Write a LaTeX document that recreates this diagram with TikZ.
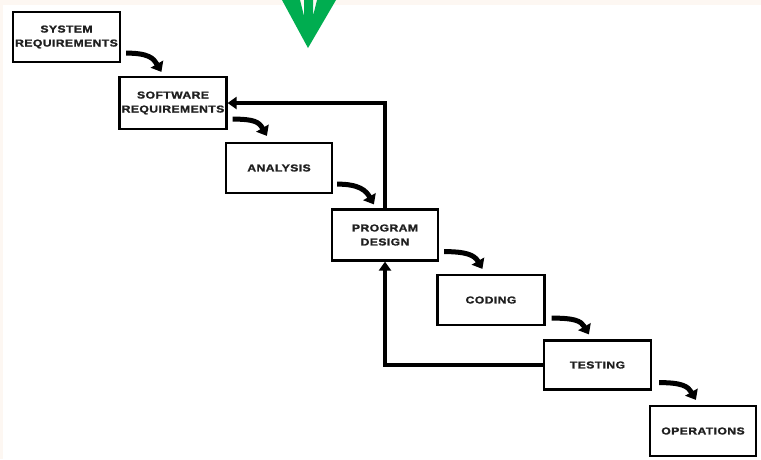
\documentclass[tikz,border=0pt]{standalone}
\usepackage{fontspec}
\usepackage{xcolor}
\usepackage{tikz}
\usetikzlibrary{arrows.meta,calc}
\newfontfamily\phasefont[FakeStretch=1.22,LetterSpace=4,FakeBold=1.5]{Liberation Sans Bold}
\definecolor{pagecream}{RGB}{253,247,242}
\definecolor{markgreen}{RGB}{0,173,80}
\tikzset{
  phase/.style={draw,line width=2.2pt,minimum width=106pt,minimum height=50pt,inner sep=0pt,
    align=center,text=black!88,font=\phasefont\fontsize{10}{14}\selectfont},
  flow/.style={line width=5pt,-{Triangle[length=9pt,width=14pt]}},
  feedback/.style={line width=4.2pt,-{Triangle[length=9pt,width=12pt]}}
}

\begin{document}
\begin{tikzpicture}[x=1pt,y=-1pt]
        \useasboundingbox (0,0) rectangle (761,459);
        \fill[pagecream] (0,0) rectangle (761,459);
        \fill[white] (3,5) rectangle (761,459);
        \fill[markgreen] (282,0) -- (300,0) -- (304,16) -- (304,0) -- (313,0) -- (313,16)
            -- (317,0) -- (336,0) -- (308,48) -- cycle;

        \node[phase,minimum width=107pt] (sysreq) at (66.5,37) {SYSTEM\\REQUIREMENTS};
        \node[phase,minimum width=107pt,minimum height=52pt] (swreq) at (173,103) {SOFTWARE\\REQUIREMENTS};
        \node[phase] (analysis) at (279,168) {ANALYSIS};
        \node[phase,minimum height=51pt] (progdesign) at (385,235) {PROGRAM\\DESIGN};
        \node[phase,minimum width=107pt] (coding) at (491,300) {CODING};
        \node[phase,minimum width=107pt,minimum height=49pt] (testing) at (597.5,365) {TESTING};
        \node[phase] (operations) at (703,431) {OPERATIONS};

        \draw[flow] ($(sysreq.south east)+(5,-10)$) .. controls +(22,0) and +(-8,-14) .. ($(swreq.north west)+(43,-4)$);
        \draw[flow] ($(swreq.south east)+(5,-11)$) .. controls +(22,0) and +(-8,-14) .. ($(analysis.north west)+(42,-6)$);
        \draw[flow] ($(analysis.south east)+(4,-10)$) .. controls +(22,0) and +(-8,-14) .. ($(progdesign.north west)+(43,-4)$);
        \draw[flow] ($(progdesign.south east)+(5,-10)$) .. controls +(22,0) and +(-8,-14) .. ($(coding.north west)+(46,-5)$);
        \draw[flow] ($(coding.south east)+(6,-8)$) .. controls +(22,0) and +(-8,-14) .. ($(testing.north west)+(46,-5)$);
        \draw[flow] ($(testing.south east)+(7,-8)$) .. controls +(22,0) and +(-8,-14) .. ($(operations.north west)+(47,-5)$);

        \draw[feedback] (testing.west) -| (progdesign.south);
        \draw[feedback] (progdesign.north) |- (swreq.east);
    \end{tikzpicture}
\end{document}
